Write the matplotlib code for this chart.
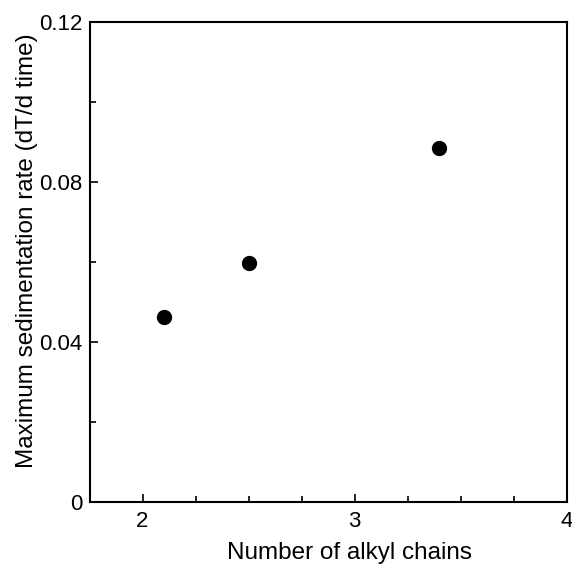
import matplotlib.pyplot as plt
from matplotlib.ticker import MultipleLocator, FixedFormatter, FixedLocator

# measured values
alkyl_chains = [2.1, 2.5, 3.4]
max_sed_rate = [0.0462, 0.0598, 0.0886]

x_ticks = [2, 3, 4]
y_ticks = [0, 0.04, 0.08, 0.12]
y_tick_labels = ["0", "0.04", "0.08", "0.12"]

plt.rcParams["font.family"] = ["Liberation Sans", "DejaVu Sans"]
plt.rcParams["font.size"] = 16

fig = plt.figure(figsize=(5.72, 5.67), dpi=100)
ax = fig.add_axes([89.5 / 572, 1 - 501.7 / 567, (566.7 - 89.5) / 572, (501.7 - 22.3) / 567])

ax.plot(alkyl_chains, max_sed_rate, "o", color="black", markersize=10)

ax.set_xlim(1.75, 4)
ax.set_ylim(0, 0.12)

ax.xaxis.set_major_locator(FixedLocator(x_ticks))
ax.xaxis.set_minor_locator(MultipleLocator(0.25))
ax.yaxis.set_major_locator(FixedLocator(y_ticks))
ax.yaxis.set_major_formatter(FixedFormatter(y_tick_labels))
ax.yaxis.set_minor_locator(MultipleLocator(0.02))

ax.tick_params(which="both", direction="in", width=1.2, top=False, right=False)
ax.tick_params(which="major", length=6, labelsize=16)
ax.tick_params(axis="x", which="major", pad=7)
ax.tick_params(axis="y", which="major", pad=5)
ax.tick_params(which="minor", length=4)
for side in ax.spines.values():
    side.set_linewidth(1.5)

ax.set_xlabel("Number of alkyl chains", fontsize=17.5)
ax.set_ylabel("Maximum sedimentation rate (dT/d time)", fontsize=17.5)
ax.xaxis.set_label_coords(0.544, -0.085)
ax.yaxis.set_label_coords(-0.108, 0.523)

fig.savefig("out.png", dpi=100)
